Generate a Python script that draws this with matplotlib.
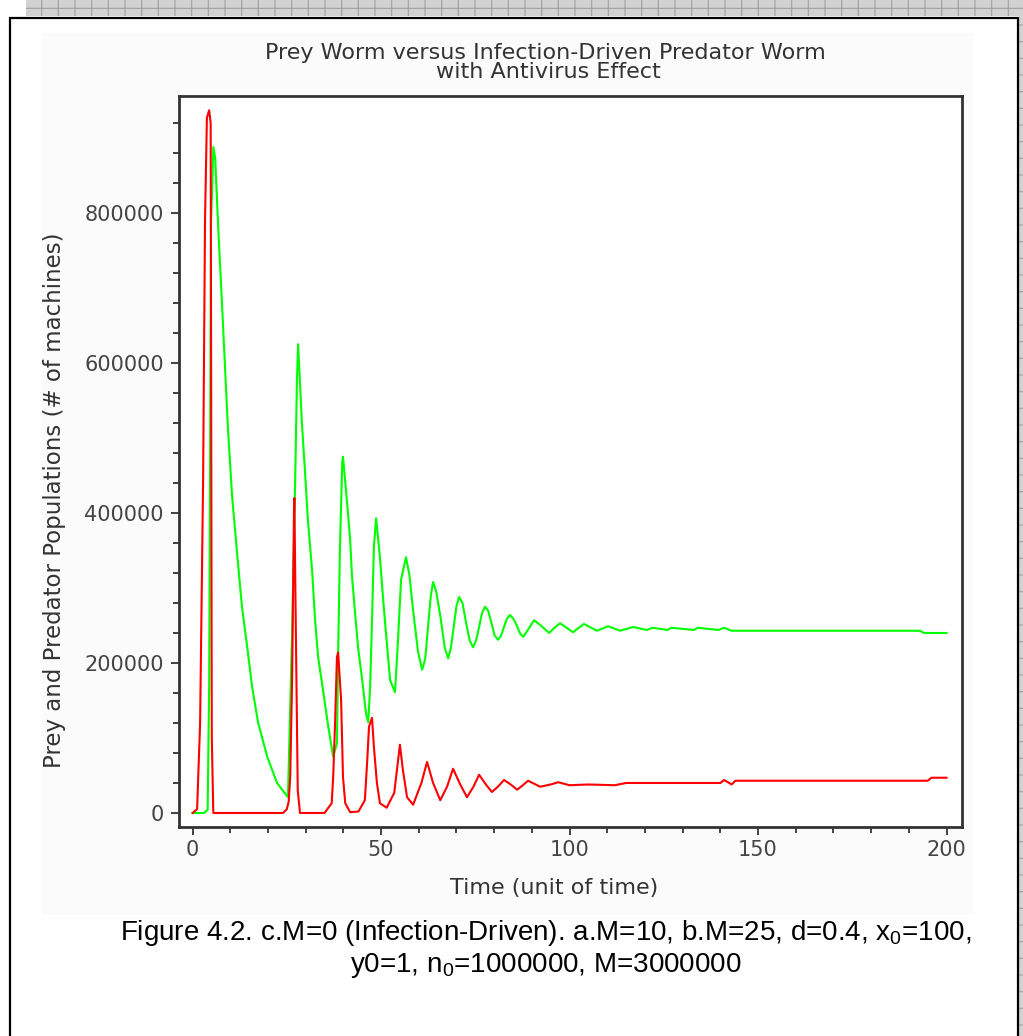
import matplotlib
matplotlib.use('Agg')
import matplotlib.pyplot as plt
from matplotlib.patches import Rectangle
from matplotlib.ticker import MultipleLocator, FuncFormatter

# prey worm (green)
t_prey = [0, 3.0, 4.0, 4.4, 4.9, 5.2, 5.5, 6.0, 6.5, 7.0, 7.6, 8.1, 8.6, 9.4, 10.5,
          11.8, 13.1, 14.5, 15.8, 17.4, 19.8, 22.4, 25.3, 26.4, 27.2, 27.7, 28.0,
          29.0, 29.8, 30.6, 31.7, 32.5, 33.3, 34.6, 36.0, 37.3, 38.3, 38.6, 39.1,
          39.7, 39.9, 41.0, 41.8, 42.3, 43.1, 43.9, 45.0, 46.0, 46.6, 47.1, 47.6,
          48.1, 48.7, 49.7, 50.5, 51.3, 52.4, 53.7, 54.5, 55.3, 56.6, 57.5, 58.5,
          59.8, 60.9, 61.7, 62.4, 63.2, 63.8, 64.6, 65.8, 66.9, 67.8, 68.5, 69.2,
          70.0, 70.7, 71.6, 72.5, 73.5, 74.4, 75.2, 76.0, 76.8, 77.6, 78.4, 79.3,
          80.1, 81.0, 81.8, 82.6, 83.4, 84.2, 85.1, 86.0, 86.9, 87.7, 89.2, 90.6,
          92.6, 94.6, 96.0, 97.5, 99.2, 100.9, 103.8, 107.3, 110.2, 113.4, 116.9,
          120.5, 122, 126, 127, 133, 134, 139.5, 141, 143, 193, 194, 200]
prey = [0, 0, 4000, 170000, 788000, 834000, 888000, 873000, 815000, 760000, 700000,
        648000, 595000, 511000, 421000, 347000, 275000, 221000, 168000, 120000,
        75000, 40000, 21000, 240000, 440000, 580000, 625000, 520000, 457000, 390000,
        324000, 257000, 208000, 164000, 115000, 75000, 93000, 208000, 355000,
        467000, 475000, 413000, 364000, 315000, 267000, 221000, 177000, 133000,
        121000, 168000, 257000, 355000, 393000, 341000, 288000, 240000, 177000,
        161000, 231000, 311000, 341000, 318000, 270000, 215000, 191000, 205000,
        245000, 290000, 308000, 296000, 260000, 220000, 206000, 220000, 245000,
        276000, 288000, 280000, 255000, 230000, 221000, 230000, 248000, 267000,
        275000, 270000, 253000, 237000, 231000, 236000, 248000, 259000, 264000,
        259000, 250000, 239000, 235000, 246000, 257000, 249000, 240000, 247000,
        253000, 247000, 241000, 252000, 243000, 249000, 243000, 248000, 244000,
        247000, 244000, 247000, 244000, 247000, 244000, 247000, 243000, 243000,
        240000, 240000]

# infection-driven predator worm (red)
t_pred = [0, 1.2, 2.0, 2.8, 3.3, 3.8, 4.4, 4.8, 5.1, 5.5, 24.0, 25.0, 25.5, 25.9,
          26.4, 26.9, 27.0, 27.4, 27.9, 28.5, 35.0, 36.9, 37.3, 37.8, 38.3, 38.6,
          39.4, 39.9, 40.5, 41.8, 44.0, 45.7, 46.3, 46.8, 47.6, 48.1, 48.9, 49.7,
          51.5, 53.5, 54.3, 55.0, 55.8, 56.9, 58.5, 60.7, 62.2, 63.8, 65.7, 67.5,
          69.1, 71.0, 72.8, 74.5, 76.0, 77.8, 79.4, 81.0, 82.6, 84.4, 86.1, 87.6,
          89.0, 90.6, 92.2, 95.0, 97.0, 100.0, 105, 112, 115, 140, 141, 143, 144,
          195, 196, 200]
pred = [0, 5000, 120000, 447000, 790000, 927000, 937000, 920000, 100000, 0, 0,
        5000, 15000, 48000, 177000, 400000, 420000, 240000, 30000, 0, 0, 13000,
        48000, 120000, 208000, 214000, 151000, 48000, 13000, 1000, 2000, 17000,
        67000, 115000, 127000, 88000, 40000, 13000, 7000, 27000, 61000, 91000,
        57000, 21000, 11000, 40000, 68000, 40000, 17000, 35000, 59000, 38000,
        21000, 35000, 51000, 38000, 28000, 35000, 44000, 38000, 31000, 37000,
        43000, 39000, 35000, 38000, 41000, 37000, 38000, 37000, 40000, 40000,
        44000, 38000, 43000, 43000, 47000, 47000]

W, H = 1023, 1036
fig = plt.figure(figsize=(W / 100, H / 100), dpi=100)
fig.patch.set_facecolor('white')
plt.rcParams['hatch.linewidth'] = 0.8
plt.rcParams['mathtext.fontset'] = 'custom'
plt.rcParams['mathtext.rm'] = 'Liberation Sans'


def fx(x):
    return x / W


def fy(y):
    return 1 - y / H


# page decoration: hatched strips, off-white chart area, black frame (behind the axes)
fig.patches.append(Rectangle((fx(26), fy(16)), 1, 16 / H, transform=fig.transFigure,
                             facecolor='#d2d2d2', edgecolor='#a0a0a0', hatch='+',
                             lw=0, zorder=-2))
fig.patches.append(Rectangle((fx(1019), 0), 1, 1, transform=fig.transFigure,
                             facecolor='#d2d2d2', edgecolor='#a0a0a0', hatch='+',
                             lw=0, zorder=-2))
fig.patches.append(Rectangle((fx(42), fy(915)), (973 - 42) / W, (915 - 33) / H,
                             transform=fig.transFigure, facecolor='#fbfbfb', lw=0,
                             zorder=-1))
fig.patches.append(Rectangle((fx(9.5), -0.02), (1018 - 9.5) / W, fy(17.5) + 0.02,
                             transform=fig.transFigure, fill=False,
                             edgecolor='black', lw=1.6, zorder=-1))

ax = fig.add_axes([fx(179), fy(827), (962 - 179) / W, (827 - 96) / H])
ax.set_facecolor('white')
ax.plot(t_prey, prey, color='#00ff00', lw=1.5)
ax.plot(t_pred, pred, color='#ff0000', lw=1.5)

ax.set_xlim(-3.6, 204.1)
ax.set_ylim(-18700, 956000)
ax.xaxis.set_major_locator(MultipleLocator(50))
ax.xaxis.set_minor_locator(MultipleLocator(10))
ax.yaxis.set_major_locator(MultipleLocator(200000))
ax.yaxis.set_minor_locator(MultipleLocator(40000))
ax.yaxis.set_major_formatter(FuncFormatter(lambda v, p: '%d' % v))

for s in ax.spines.values():
    s.set_color('#333333')
    s.set_linewidth(2.0)
ax.tick_params(which='major', length=6, width=1.3, color='#333333',
               labelsize=15, labelcolor='#444444', pad=5)
ax.tick_params(axis='x', which='major', pad=3)
ax.tick_params(which='minor', length=4.5, width=1.3, color='#333333')

grey = '#333333'
fig.text(fx(545), fy(53), 'Prey Worm versus Infection-Driven Predator Worm',
         ha='center', va='center', size=16, color=grey)
fig.text(fx(548), fy(72), 'with Antivirus Effect',
         ha='center', va='center', size=16, color=grey)
fig.text(fx(554), fy(888), 'Time (unit of time)',
         ha='center', va='center', size=16, color=grey)
fig.text(fx(55), fy(500), 'Prey and Predator Populations (# of machines)',
         ha='center', va='center', size=16.5, color=grey, rotation=90)

cap = dict(ha='center', va='center', size=20, color='black', family='Liberation Sans')
fig.text(fx(546), fy(933),
         r'Figure 4.2. c.M=0 (Infection-Driven). a.M=10, b.M=25, d=0.4, x$_\mathrm{0}$=100,',
         **cap)
fig.text(fx(546), fy(965), r'y0=1, n$_\mathrm{0}$=1000000, M=3000000', **cap)

fig.savefig('out.png', dpi=100)
